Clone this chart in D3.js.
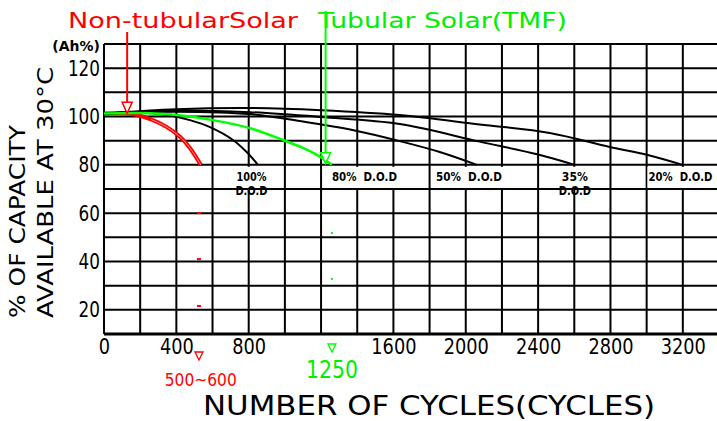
<!DOCTYPE html>
<html>
<head>
<meta charset="utf-8">
<script src="https://cdn.jsdelivr.net/npm/d3@7"></script>
<style>
  body { margin: 0; background: #fff; }
  svg { display: block; }
  text { white-space: pre; }
</style>
</head>
<body>
<svg id="chart" width="717" height="421"></svg>
<script>

// tick labels
var xTicks = [0, 400, 800, 1600, 2000, 2400, 2800, 3200];
var yTicks = [20, 40, 60, 80, 100, 120];

// curves (cycles, % capacity)
var redCycles = [0, 100, 170, 260, 348, 420, 475, 535];
var redCap    = [101.2, 101.3, 100.8, 98.8, 95.6, 91.6, 87.0, 80];

var dod100Cycles = [0, 200, 348, 480, 586, 713, 790, 851];
var dod100Cap    = [101.2, 101.5, 100.6, 98.4, 95.6, 90.3, 85.2, 80];

var greenCycles = [0, 200, 403, 602, 807, 989, 1100, 1177, 1260];
var greenCap    = [101.2, 101.4, 100.6, 98.5, 95.2, 90.3, 87.0, 84.1, 80];

var dod50Cycles = [0, 400, 807, 1083, 1380, 1635, 1856, 2061];
var dod50Cap    = [101.2, 102.0, 101.0, 98.1, 94.3, 89.8, 85.3, 80];

var dod35Cycles = [0, 400, 807, 1200, 1635, 2077, 2400, 2602];
var dod35Cap    = [101.2, 102.5, 101.8, 99.8, 96.9, 89.6, 84.3, 80];

var dod20Cycles = [0, 400, 807, 1200, 1635, 2077, 2464, 2796, 3006, 3199];
var dod20Cap    = [101.2, 103.0, 103.5, 102.6, 100.6, 96.7, 93.2, 87.4, 84.1, 80];

// stray specks in the picture
var redSpecks   = [[525, 60], [525, 41], [525, 21.6]];
var greenSpecks = [[1260, 51.8], [1260, 32.8]];

// DOD labels: [line 1, width, line 2, cycle, align]
var dodLabels = [
    ["100%", 30, "D.O.D", 815, "middle"],
    ["80%  D.O.D", 65, "", 1260, "start"],
    ["50%  D.O.D", 66, "", 1835, "start"],
    ["35%", 26, "D.O.D", 2603, "middle"],
    ["20%  D.O.D", 64, "", 3010, "start"]
];

var svg = d3.select("#chart");

var x = d3.scaleLinear().domain([0, 3400]).range([104, 719]);
var y = d3.scaleLinear().domain([10, 130]).range([334, 44]);

var plain = "'DejaVu Sans', sans-serif";

// grid
var grid = svg.append("g");
grid.selectAll(".vgrid")
    .data(d3.range(0, 3401, 200))
    .enter().append("line")
    .attr("x1", function(d) { return x(d); })
    .attr("x2", function(d) { return x(d); })
    .attr("y1", y(130)).attr("y2", y(10))
    .attr("stroke", "#000").attr("stroke-width", 2);
grid.selectAll(".hgrid")
    .data(d3.range(10, 131, 10))
    .enter().append("line")
    .attr("x1", x(0)).attr("x2", 717)
    .attr("y1", function(d) { return y(d); })
    .attr("y2", function(d) { return y(d); })
    .attr("stroke", "#000")
    .attr("stroke-width", function(d) { return d == 10 ? 3 : 2; });

var labelG = svg.append("g");

// axes labels
var xAxis = svg.append("g")
    .attr("transform", "translate(0," + y(10) + ")")
    .call(d3.axisBottom(x).tickValues(xTicks).tickFormat(d3.format("d")).tickSize(0).tickPadding(5));
xAxis.select(".domain").remove();
xAxis.selectAll("text")
    .attr("font-family", plain).attr("font-size", 21).attr("fill", "#000")
    .attr("lengthAdjust", "spacingAndGlyphs")
    .attr("textLength", function(d) { return String(d).length * 11.3; });

var yAxis = svg.append("g")
    .attr("transform", "translate(" + x(0) + ",0)")
    .call(d3.axisLeft(y).tickValues(yTicks).tickSize(0).tickPadding(4));
yAxis.select(".domain").remove();
yAxis.selectAll("text")
    .attr("font-family", plain).attr("font-size", 22).attr("fill", "#000")
    .attr("lengthAdjust", "spacingAndGlyphs")
    .attr("textLength", function(d) { return String(d).length * 10.7; });

// curves
var line = d3.line()
    .x(function(d) { return x(d[0]); })
    .y(function(d) { return y(d[1]); })
    .curve(d3.curveCatmullRom.alpha(0.5));

function pairs(a, b) { return a.map(function(v, i) { return [v, b[i]]; }); }

// red curve first (double line), the black ones run over its start
var redData = pairs(redCycles, redCap);
svg.append("path").attr("d", line(redData))
    .attr("fill", "none").attr("stroke", "#ff0000").attr("stroke-width", 4);
svg.append("path").attr("d", line(redData.slice(3)))
    .attr("fill", "none").attr("stroke", "#fff").attr("stroke-width", 0.7).attr("opacity", 0.8);

[[dod20Cycles, dod20Cap], [dod35Cycles, dod35Cap], [dod50Cycles, dod50Cap], [dod100Cycles, dod100Cap]]
    .forEach(function(s) {
        svg.append("path").attr("d", line(pairs(s[0], s[1])))
            .attr("fill", "none").attr("stroke", "#000").attr("stroke-width", 2);
    });

svg.append("path").attr("d", line(pairs(greenCycles, greenCap)))
    .attr("fill", "none").attr("stroke", "#00ff00").attr("stroke-width", 2.5);

// specks
svg.selectAll(".rs").data(redSpecks).enter().append("rect")
    .attr("x", function(d) { return x(d[0]) - 2; })
    .attr("y", function(d) { return y(d[1]) - 1; })
    .attr("width", 4).attr("height", 2).attr("fill", "#ff0000");
svg.selectAll(".gs").data(greenSpecks).enter().append("rect")
    .attr("x", function(d) { return x(d[0]) - 1; })
    .attr("y", function(d) { return y(d[1]) - 1; })
    .attr("width", 2).attr("height", 2).attr("fill", "#00ff00");

// DOD labels
dodLabels.forEach(function(l) {
    var t = labelG.append("text")
        .attr("x", x(l[3])).attr("y", y(80) + 16)
        .attr("text-anchor", l[4])
        .attr("font-family", plain).attr("font-weight", "bold").attr("font-size", 13)
        .attr("lengthAdjust", "spacingAndGlyphs")
        .attr("textLength", l[1])
        .text(l[0]);
    var bb = t.node().getBBox();
    labelG.insert("rect", "text")
        .attr("x", bb.x - 1).attr("y", y(80) + 2)
        .attr("width", bb.width + 2).attr("height", y(70) - y(80) - 3)
        .attr("fill", "#fff");
    if (l[2]) {
        svg.append("text")
            .attr("x", x(l[3])).attr("y", y(80) + 30)
            .attr("text-anchor", "middle")
            .attr("font-family", plain).attr("font-weight", "bold").attr("font-size", 13)
            .attr("lengthAdjust", "spacingAndGlyphs")
            .attr("textLength", 32)
            .text(l[2]);
    }
});

// titles
svg.append("text").attr("x", 68).attr("y", 28)
    .attr("font-family", plain).attr("font-size", 22).attr("fill", "#ff0000")
    .attr("textLength", 230).attr("lengthAdjust", "spacingAndGlyphs")
    .text("Non-tubularSolar");
svg.append("text").attr("x", 318).attr("y", 28)
    .attr("font-family", plain).attr("font-size", 22).attr("fill", "#00ee00")
    .attr("textLength", 249).attr("lengthAdjust", "spacingAndGlyphs")
    .text("Tubular Solar(TMF)");

// pointer arrows
function arrow(cx, tipY, topY, color) {
    svg.append("line").attr("x1", cx).attr("x2", cx).attr("y1", topY).attr("y2", tipY - 10)
        .attr("stroke", color).attr("stroke-width", 2);
    svg.append("path")
        .attr("d", "M" + (cx - 5) + "," + (tipY - 11) + "L" + (cx + 5) + "," + (tipY - 11) + "L" + cx + "," + tipY + "Z")
        .attr("fill", "#fff").attr("stroke", color).attr("stroke-width", 1.5);
}
arrow(x(128), y(101.3), 32, "#ff0000");
arrow(x(1225), y(80.5), 11, "#00ff00");

// small markers under the axis
function smallTri(cx, cy, color) {
    svg.append("path")
        .attr("d", "M" + (cx - 4) + "," + cy + "L" + (cx + 4) + "," + cy + "L" + cx + "," + (cy + 8) + "Z")
        .attr("fill", "#fff").attr("stroke", color).attr("stroke-width", 1.3);
}
smallTri(x(525), 352, "#ff0000");
smallTri(x(1260), 344, "#00ff00");

svg.append("text").attr("x", x(535)).attr("y", 386)
    .attr("text-anchor", "middle").attr("font-family", plain).attr("font-size", 18)
    .attr("textLength", 72).attr("lengthAdjust", "spacingAndGlyphs")
    .attr("fill", "#ff0000").text("500~600");
svg.append("text").attr("x", x(1260)).attr("y", 378)
    .attr("text-anchor", "middle").attr("font-family", plain).attr("font-size", 24)
    .attr("textLength", 52).attr("lengthAdjust", "spacingAndGlyphs")
    .attr("fill", "#00ee00").text("1250");

// unit
svg.append("text").attr("x", 100).attr("y", 51)
    .attr("text-anchor", "end").attr("font-family", plain).attr("font-weight", "bold")
    .attr("font-size", 14).text("(Ah%)");

// axis titles
svg.append("text").attr("transform", "translate(25,318) rotate(-90)")
    .attr("font-family", plain).attr("font-size", 21)
    .attr("textLength", 193).attr("lengthAdjust", "spacingAndGlyphs")
    .text("% OF CAPACITY");
svg.append("text").attr("transform", "translate(53,318) rotate(-90)")
    .attr("font-family", plain).attr("font-size", 21)
    .attr("textLength", 251).attr("lengthAdjust", "spacingAndGlyphs")
    .text("AVAILABLE AT 30°C");

svg.append("text").attr("x", 203).attr("y", 415)
    .attr("font-family", plain).attr("font-size", 26)
    .attr("textLength", 452).attr("lengthAdjust", "spacingAndGlyphs")
    .text("NUMBER OF CYCLES(CYCLES)");

</script>
</body>
</html>
